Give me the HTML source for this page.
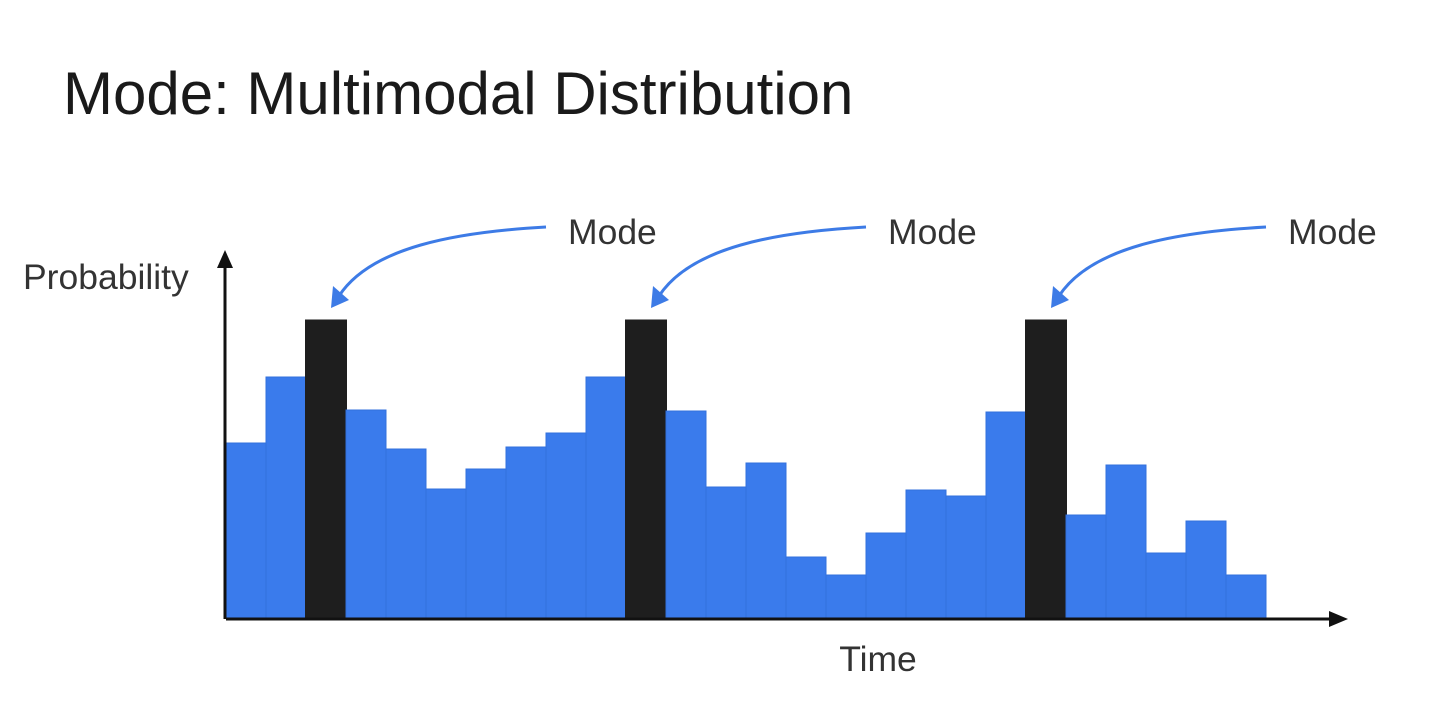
<!DOCTYPE html>
<html><head><meta charset="utf-8"><style>
html,body{margin:0;padding:0;background:#fff;}
svg{display:block;}
text{font-family:"Liberation Sans",sans-serif;}
</style></head><body>
<svg id="chart" width="1440" height="708">
<text x="63" y="114" font-size="60" fill="#1a1a1a">Mode: Multimodal Distribution</text>
<text x="23" y="289" font-size="35.5" fill="#333">Probability</text>
<text x="878" y="671" font-size="35.5" fill="#333" text-anchor="middle">Time</text>
<g id="bars"></g>
<g id="axes"></g>
<g id="annotations"></g>
</svg>
<script>
const categories = Array.from({length:26},(_,i)=>'t'+(i+1));
const values = [175,241,298,208,169,129,149,171,185,241,298,207,131,155,61,43,85,128,122,206,298,103,153,65,97,43];
const modeIdx = [2,10,20];
const modeLabels = ['Mode','Mode','Mode'];

const NS='http://www.w3.org/2000/svg';
const x0=226, bw=40, base=618;
const xs=i=>x0+i*bw;
const ys=v=>base-v;
const bars=document.getElementById('bars');
values.forEach((v,i)=>{
  const r=document.createElementNS(NS,'rect');
  const isMode=modeIdx.includes(i);
  r.setAttribute('x',xs(i)+(isMode?-0.5:0));
  r.setAttribute('y',ys(v));
  r.setAttribute('width',isMode?41:40);
  r.setAttribute('height',v);
  r.setAttribute('fill',isMode?'#1e1e1e':'#3a7bec');
  r.setAttribute('stroke',isMode?'#1e1e1e':'#3370dc');
  r.setAttribute('stroke-width','1');
  
  
  bars.appendChild(r);
});
const axes=document.getElementById('axes');
axes.innerHTML='<line x1="226" y1="619" x2="1332" y2="619" stroke="#111" stroke-width="3"/>'+
'<polygon points="1348,619 1329,611 1329,627" fill="#111"/>'+
'<line x1="225" y1="619" x2="225" y2="265" stroke="#111" stroke-width="3"/>'+
'<polygon points="225,250 217,268 233,268" fill="#111"/>';
const ann=document.getElementById('annotations');
modeIdx.forEach((m,k)=>{
  const tx=xs(m)+bw/2+5, ty=ys(values[m])-12;
  const sx=tx+215, sy=227;
  const p=document.createElementNS(NS,'path');
  p.setAttribute('d',`M${sx},${sy} C${sx-90},${sy+5} ${tx+40},${sy+20} ${tx+8},${ty-12}`);
  p.setAttribute('fill','none');p.setAttribute('stroke','#3d7be6');p.setAttribute('stroke-width','3');
  
  
  ann.appendChild(p);
  const h=document.createElementNS(NS,'polygon');
  h.setAttribute('points',`${tx},${ty} ${tx+2},${ty-22} ${tx+18},${ty-8}`);
  h.setAttribute('fill','#3d7be6');
  
  
  ann.appendChild(h);
  const t=document.createElementNS(NS,'text');
  t.setAttribute('x',sx+22);t.setAttribute('y',244);t.setAttribute('font-size','35.5');t.setAttribute('fill','#333');
  t.textContent=modeLabels[k];
  
  
  ann.appendChild(t);
});
</script>
</body></html>
